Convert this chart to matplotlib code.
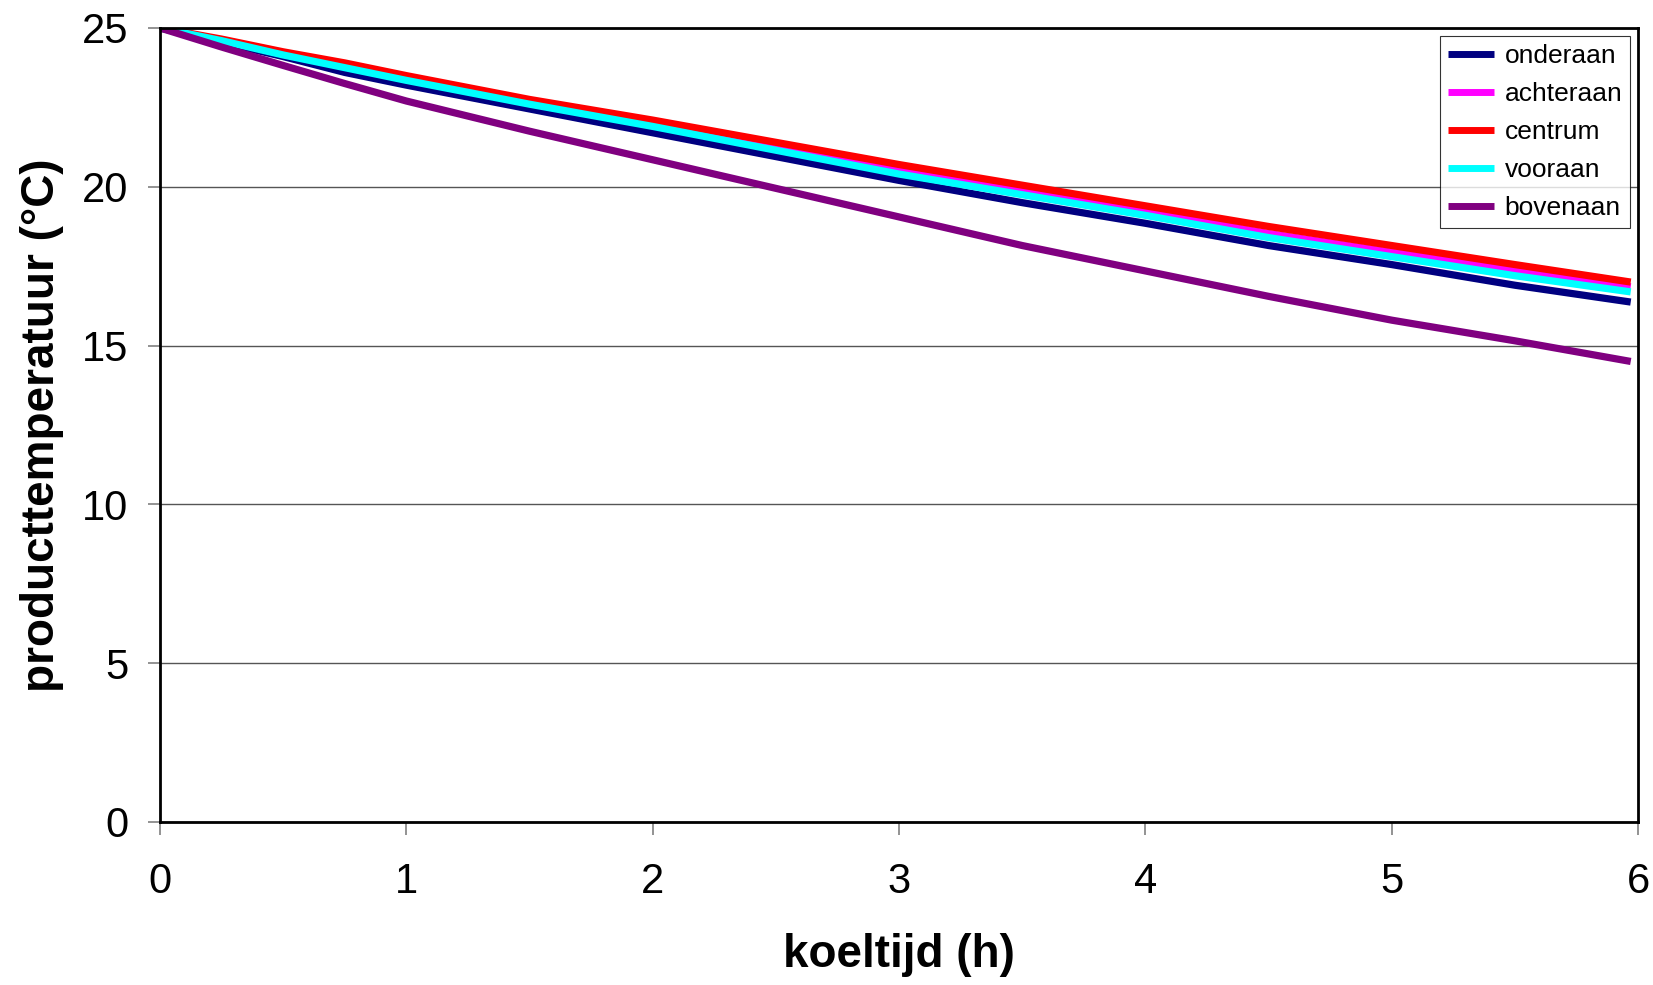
import matplotlib
matplotlib.use("Agg")
import matplotlib.pyplot as plt

# ── Data ──────────────────────────────────────────────────────────────────────
tijd = [0, 0.25, 0.5, 0.75, 1.0, 1.5, 2.0, 2.5, 3.0, 3.5, 4.0, 4.5, 5.0, 5.5, 5.97]

onderaan  = [25.0, 24.55, 24.10, 23.60, 23.20, 22.45, 21.70, 20.95, 20.20, 19.50, 18.85, 18.15, 17.55, 16.90, 16.37]
achteraan = [25.0, 24.62, 24.18, 23.80, 23.40, 22.66, 21.97, 21.24, 20.50, 19.86, 19.22, 18.53, 17.94, 17.35, 16.85]
centrum   = [25.0, 24.65, 24.25, 23.90, 23.50, 22.75, 22.10, 21.40, 20.70, 20.05, 19.40, 18.75, 18.15, 17.55, 17.00]
vooraan   = [25.0, 24.60, 24.15, 23.75, 23.35, 22.60, 21.90, 21.15, 20.40, 19.75, 19.10, 18.40, 17.80, 17.20, 16.69]
bovenaan  = [25.0, 24.40, 23.82, 23.25, 22.70, 21.75, 20.85, 19.95, 19.05, 18.15, 17.35, 16.55, 15.80, 15.15, 14.50]

series = [
    ("onderaan",  onderaan,  "#000080"),
    ("achteraan", achteraan, "#FF00FF"),
    ("centrum",   centrum,   "#FF0000"),
    ("vooraan",   vooraan,   "#00FFFF"),
    ("bovenaan",  bovenaan,  "#800080"),
]

xticks = [0, 1, 2, 3, 4, 5, 6]
yticks = [0, 5, 10, 15, 20, 25]

plt.rcParams["font.family"] = ["Liberation Sans", "DejaVu Sans"]

fig = plt.figure(figsize=(16.53, 9.85), dpi=100)
ax = fig.add_axes([0.0968, 0.1655, 0.8942, 0.8061])

for name, vals, col in series:
    ax.plot(tijd, vals, color=col, lw=5.2, label=name, solid_capstyle="butt")

ax.set_xlim(0, 6)
ax.set_ylim(0, 25)
ax.set_xticks(xticks)
ax.set_yticks(yticks)
ax.yaxis.grid(True, color="#555555", lw=1.0)
ax.set_axisbelow(True)

for s in ax.spines.values():
    s.set_color("black")
    s.set_linewidth(2.0)

ax.tick_params(axis="both", direction="out", length=9, width=1.2,
               color="#808080", labelsize=30)
ax.tick_params(axis="y", pad=14)
ax.tick_params(axis="x", pad=20)

ax.set_xlabel("koeltijd (h)", fontsize=33, fontweight="bold", labelpad=22)
ax.set_ylabel("producttemperatuur (°C)", fontsize=33, fontweight="bold", labelpad=13)

leg = ax.legend(loc="upper right", fontsize=19, frameon=True, fancybox=False,
                handlelength=1.75, handletextpad=0.4, labelspacing=0.53,
                borderpad=0.3, borderaxespad=0.3)
leg.get_frame().set_edgecolor("black")
leg.get_frame().set_linewidth(0.8)
for h in leg.get_lines():
    h.set_linewidth(5)

fig.savefig("out.png", dpi=100, facecolor="white")
